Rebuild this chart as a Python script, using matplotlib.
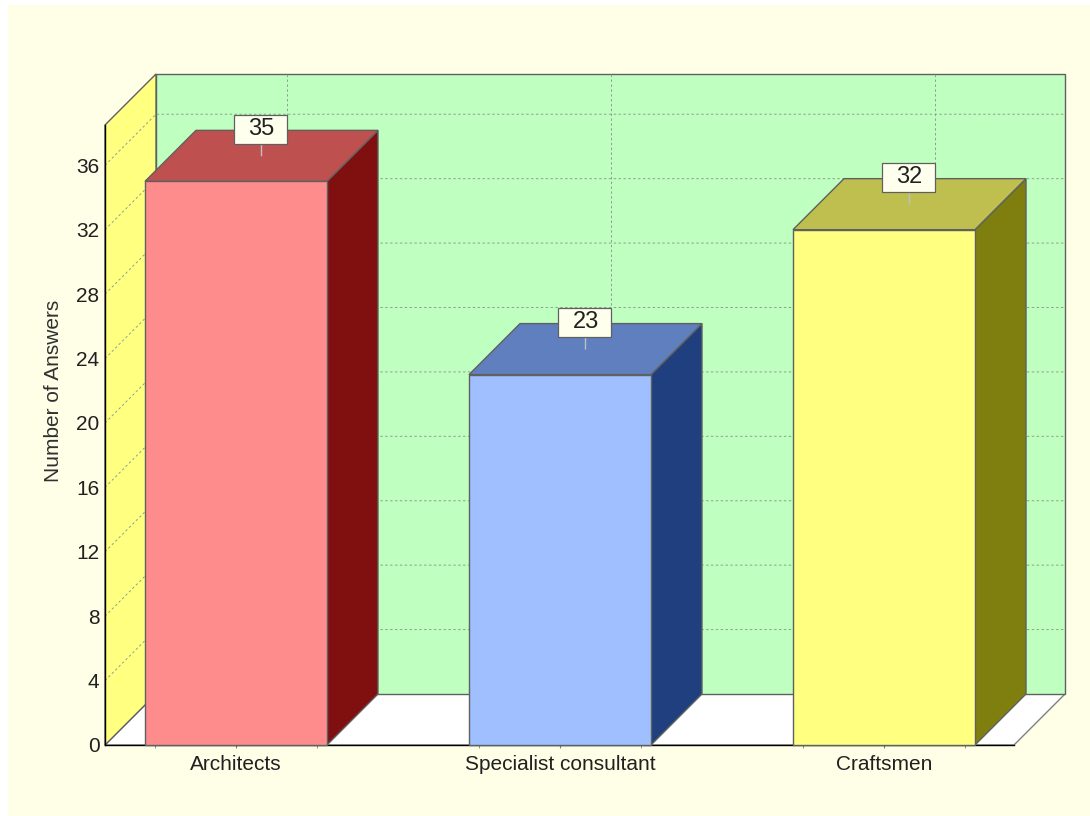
#!/usr/bin/env python3
# Pseudo-3D bar chart of answers per profession, saved to out.png

import matplotlib
matplotlib.use("Agg")
import matplotlib.pyplot as plt
from matplotlib.patches import Polygon, Rectangle
from matplotlib.path import Path

plt.rcParams['font.family'] = ['Liberation Sans', 'DejaVu Sans']

# Data
categories = ["Architects", "Specialist consultant", "Craftsmen"]
answers = [35, 23, 32]
y_ticks = list(range(0, 37, 4))

# Face colours per bar: front, top, side
front_colors = ["#FF8C8C", "#A0BFFF", "#FFFF80"]
top_colors = ["#BF5050", "#5F7FBF", "#BFBF50"]
side_colors = ["#800F0F", "#1F3F7F", "#7F7F0F"]

# Layout constants
W, H = 1090, 816
bar_width = 0.5617
x_min, x_max = -0.4043, 2.4012
y_max = 38.5
dx = 51 / 324   # depth offset in category units
dy = 51 / 16.1  # depth offset in answer units
edge = "#606060"

fig = plt.figure(figsize=(W / 100, H / 100), dpi=100, facecolor="white")
fig.patches.append(Rectangle((8 / W, 0), 1082 / W, 811 / H, transform=fig.transFigure,
                             facecolor="#FFFFE8", edgecolor="none", zorder=-10))

ax = fig.add_axes([105 / W, 1 - 745 / H, 909 / W, 620 / H])
ax.set_xlim(x_min, x_max)
ax.set_ylim(0, y_max)
ax.patch.set_visible(False)


def face(points, color, z, ec=edge, lw=1.0):
    ax.add_patch(Polygon(points, closed=True, facecolor=color, edgecolor=ec, linewidth=lw,
                         clip_on=False, zorder=z))


# Value labels sit in a fixed 53x29 px box whatever the text extent is
def label_box(x0, y0, width, height, mutation_size):
    cx, cy = x0 + width / 2 - 1, y0 + height / 2
    return Path([(cx - 26.5, cy - 14.5), (cx + 26.5, cy - 14.5), (cx + 26.5, cy + 14.5),
                 (cx - 26.5, cy + 14.5), (cx - 26.5, cy - 14.5)], closed=True)


# Walls and floor
face([(x_min, 0), (x_max, 0), (x_max + dx, dy), (x_min + dx, dy)], "white", 1, ec="#808080")
face([(x_min + dx, dy), (x_max + dx, dy), (x_max + dx, y_max + dy), (x_min + dx, y_max + dy)], "#BFFFBF", 1)
face([(x_min, 0), (x_min + dx, dy), (x_min + dx, y_max + dy), (x_min, y_max)], "#FFFF80", 1)

# Dashed grid on back and left walls
grid = dict(color="#90A090", linestyle="--", linewidth=0.7, dashes=(2.5, 2.5), clip_on=False, zorder=2)
for t in y_ticks[1:]:
    ax.plot([x_min, x_min + dx, x_max + dx], [t, t + dy, t + dy], **grid)
for i in range(len(categories)):
    ax.plot([i + dx, i + dx], [dy, y_max + dy], **grid)

# Bars: front through ax.bar, top and side as polygons
for i, (v, fc, tc, sc) in enumerate(zip(answers, front_colors, top_colors, side_colors)):
    l, r = i - bar_width / 2, i + bar_width / 2
    face([(r, 0), (r + dx, dy), (r + dx, v + dy), (r, v)], sc, 4)
    face([(l, v), (r, v), (r + dx, v + dy), (l + dx, v + dy)], tc, 4)
    ax.bar(i, v, width=bar_width, color=fc, edgecolor=edge, linewidth=1.0, clip_on=False, zorder=5)
    ax.annotate(str(v), xy=(i + dx / 2, v + dy / 2), xytext=(0, 19.3), textcoords="offset points",
                ha="center", va="center", fontsize=17, color="#202020", zorder=7,
                bbox=dict(boxstyle=label_box, facecolor="#FFFFEE", edgecolor="#606060", linewidth=0.9),
                arrowprops=dict(arrowstyle="-", color="#C0C0C0", linewidth=1.0, shrinkA=0, shrinkB=0))

# Axes
for s in ("top", "right"):
    ax.spines[s].set_visible(False)
for s in ("left", "bottom"):
    ax.spines[s].set_color("black")
    ax.spines[s].set_linewidth(1.0)
    ax.spines[s].set_zorder(3)
ax.set_yticks(y_ticks)
ax.set_xticks(range(len(categories)))
ax.set_xticklabels(categories)
ax.set_xticks([i + o for i in range(len(categories)) for o in (-0.25, 0.25)], minor=True)
ax.tick_params(axis="y", length=0, pad=4, labelsize=15, labelcolor="#202020")
ax.tick_params(axis="x", which="major", length=2, pad=5, labelsize=15, labelcolor="#202020", color="#808080")
ax.tick_params(axis="x", which="minor", length=2, color="#808080")
ax.set_ylabel("Number of Answers", fontsize=15, color="#303030")
ax.yaxis.set_label_coords(-0.046, 0.571)

plt.savefig("out.png", dpi=100)
print("Plot saved to out.png")
